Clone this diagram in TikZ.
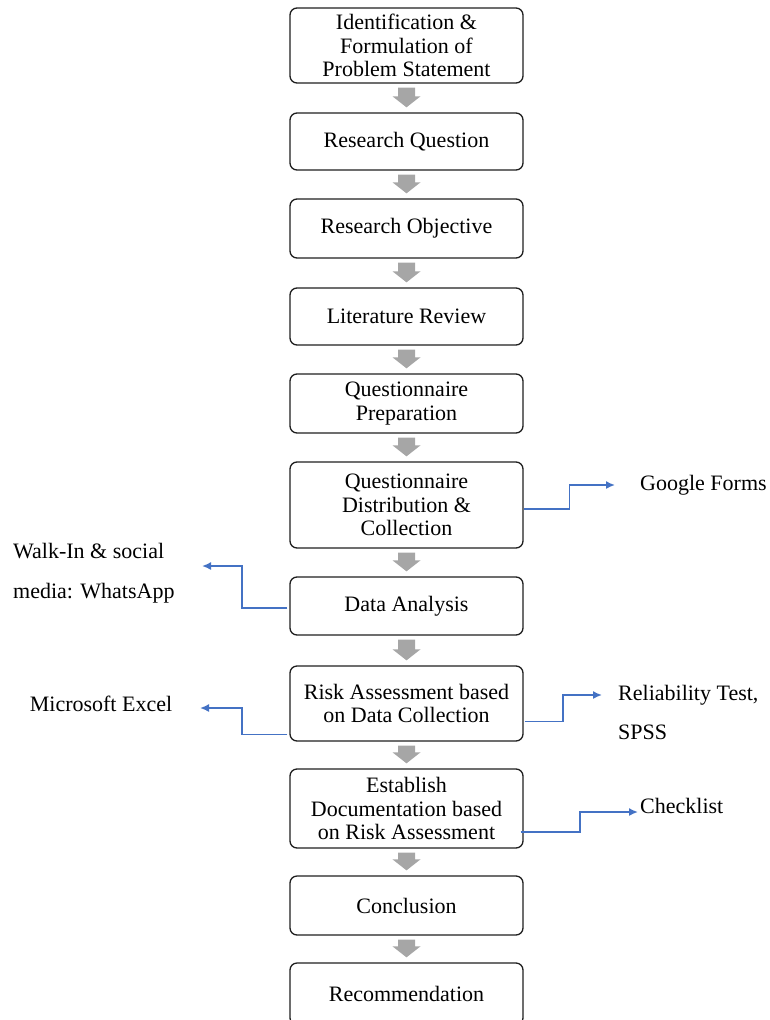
\documentclass[tikz,border=0pt]{standalone}
\usepackage{fontspec}
\setmainfont{Liberation Serif}
\usetikzlibrary{calc,arrows.meta}
\definecolor{flowblue}{RGB}{68,114,196}
\definecolor{flowgray}{RGB}{166,166,166}
\definecolor{boxline}{RGB}{30,30,30}
\tikzset{
  stepbox/.style={draw=boxline, line width=1.3pt, rounded corners=7pt, minimum width=233pt, inner sep=0pt, align=center, font=\fontsize{22}{23.2}\selectfont},
  sidetext/.style={font=\fontsize{22}{26}\selectfont, inner sep=0pt},
  blueline/.style={draw=flowblue, line width=1.6pt, -{Latex[length=9pt,width=8pt]}},
}
\newcommand\grayarrow[2]{\fill[flowgray] ($(#1.south)+(-8.5,4)$) -- ($(#1.south)+(8.5,4)$) -- ($(#2.north)+(8.5,-16)$) -- ($(#2.north)+(14,-16)$) -- ($(#2.north)+(0,-5)$) -- ($(#2.north)+(-14,-16)$) -- ($(#2.north)+(-8.5,-16)$) -- cycle;}
\begin{document}
\begin{tikzpicture}[x=1pt,y=-1pt]
\useasboundingbox (0,0) rectangle (769,1020);
\node[stepbox, minimum height=75pt] (ident) at (406.5,45.5) {Identification \&\\Formulation of\\Problem Statement};
\node[stepbox, minimum height=57pt] (rq) at (406.5,141.5) {Research Question};
\node[stepbox, minimum height=59pt] (ro) at (406.5,228.5) {Research Objective};
\node[stepbox, minimum height=57pt] (lr) at (406.5,316.5) {Literature Review};
\node[stepbox, minimum height=59pt] (qp) at (406.5,403.5) {Questionnaire\\Preparation};
\node[stepbox, minimum height=86pt] (qd) at (406.5,505) {Questionnaire\\Distribution \&\\Collection};
\node[stepbox, minimum height=58pt] (da) at (406.5,606) {Data Analysis};
\node[stepbox, minimum height=75pt] (ra) at (406.5,703.5) {Risk Assessment based\\on Data Collection};
\node[stepbox, minimum height=79pt] (ed) at (406.5,808.5) {Establish\\Documentation based\\on Risk Assessment};
\node[stepbox, minimum height=59pt] (con) at (406.5,905.5) {Conclusion};
\node[stepbox, minimum height=62pt] (rec) at (406.5,994) {Recommendation};

\grayarrow{ident}{rq}
\grayarrow{rq}{ro}
\grayarrow{ro}{lr}
\grayarrow{lr}{qp}
\grayarrow{qp}{qd}
\grayarrow{qd}{da}
\grayarrow{da}{ra}
\grayarrow{ra}{ed}
\grayarrow{ed}{con}
\grayarrow{con}{rec}

% side labels
\node[sidetext, anchor=west] (gf) at (640,485) {Google Forms};
\node[sidetext, anchor=west, align=left, font=\fontsize{22}{40}\selectfont] (walk) at (13,573) {Walk-In \& social\\media: WhatsApp};
\node[sidetext] (excel) at (101,704) {Microsoft Excel};
\node[sidetext, anchor=west, align=left, font=\fontsize{22}{39}\selectfont] (rel) at (618,712) {Reliability Test,\\SPSS};
\node[sidetext, anchor=west] (chk) at (640,806) {Checklist};

\coordinate (gfin) at (615,485);
\coordinate (walkin) at (202,566);
\coordinate (excelin) at (200,708);
\coordinate (relin) at (602,695);
\coordinate (chkin) at (638,812);

\draw[blueline] ($(qd.east)+(0,4)$) -- ++(46,0) |- (gfin);
\draw[blueline] ($(da.west)+(-2,2)$) -- (242,608) |- (walkin);
\draw[blueline] ($(ra.west)+(-2,31)$) -- (242,734.5) |- (excelin);
\draw[blueline] ($(ra.east)+(1,18)$) -- (563,721.5) |- (relin);
\draw[blueline] ($(ed.east)+(-3,23.5)$) -- (580,832) |- (chkin);
\end{tikzpicture}
\end{document}
